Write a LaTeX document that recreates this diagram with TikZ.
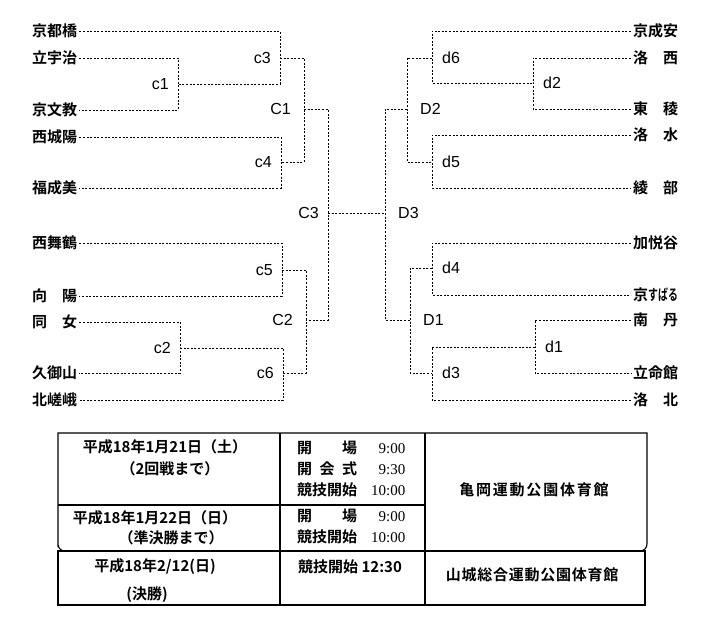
\documentclass[tikz,border=0pt]{standalone}
\usepackage{fontspec}
\setmainfont{Liberation Sans}
\newfontfamily\jp{Noto Sans CJK JP}[BoldFont=* Bold]
\newfontfamily\tm{Liberation Serif}
\begin{document}
\begin{tikzpicture}[x=1pt,y=-1pt]
    \tikzstyle{team} = [inner sep=2pt, font=\jp\bfseries\fontsize{15}{18}\selectfont]
    \tikzstyle{br} = [line width=0.8pt, dash pattern=on 2pt off 1.6pt]
    \tikzstyle{lab} = [inner sep=1pt, font=\fontsize{16}{19}\selectfont]
    \tikzstyle{cell} = [inner sep=0pt, font=\jp\bfseries\fontsize{15}{21}\selectfont]
    \tikzstyle{tab} = [line width=1.1pt]
    \useasboundingbox (0,0) rectangle (725,643);
    % left side
    \node[team, anchor=west] (l1) at (30,31) {京都橋};
    \node[team, anchor=west] (l2) at (30,58) {立宇治};
    \node[team, anchor=west] (l3) at (30,110) {京文教};
    \node[team, anchor=west] (l4) at (30,137) {西城陽};
    \node[team, anchor=west] (l5) at (30,188) {福成美};
    \node[team, anchor=west] (l6) at (30,243) {西舞鶴};
    \node[team, anchor=west] (l7) at (30,296) {向　陽};
    \node[team, anchor=west] (l8) at (30,322) {同　女};
    \node[team, anchor=west] (l9) at (30,373) {久御山};
    \node[team, anchor=west] (l10) at (30,400) {北嵯峨};
    \coordinate (c1) at (178,84);
    \coordinate (c2) at (180,348);
    \coordinate (c3) at (280,58);
    \coordinate (c4) at (281,162);
    \coordinate (c5) at (282,270);
    \coordinate (c6) at (283,373);
    \coordinate (C1) at (304,109);
    \coordinate (C2) at (306,320);
    \coordinate (C3) at (328,213);
    \draw[br] (l2.east) -| (c1) |- (l3.east);
    \draw[br] (l1.east) -| (c3) |- (c1);
    \draw[br] (l4.east) -| (c4) |- (l5.east);
    \draw[br] (c3) -| (C1) |- (c4);
    \draw[br] (l6.east) -| (c5) |- (l7.east);
    \draw[br] (l8.east) -| (c2) |- (l9.east);
    \draw[br] (c2) -| (c6) |- (l10.east);
    \draw[br] (c5) -| (C2) |- (c6);
    \draw[br] (C1) -| (C3) |- (C2);
    \node[lab, left=8pt] (tc1) at (c1) {c1};
    \node[lab, left=8pt] (tc2) at (c2) {c2};
    \node[lab, left=8pt] (tc3) at (c3) {c3};
    \node[lab, left=8pt] (tc4) at (c4) {c4};
    \node[lab, left=8pt] (tc5) at (c5) {c5};
    \node[lab, left=8pt] (tc6) at (c6) {c6};
    \node[lab, left=12pt] (tC1) at (C1) {C1};
    \node[lab, left=12pt] (tC2) at (C2) {C2};
    \node[lab, left=8pt] (tC3) at (C3) {C3};
    % right side
    \node[team, anchor=west] (r1) at (631,31) {京成安};
    \node[team, anchor=west] (r2) at (631,58) {洛　西};
    \node[team, anchor=west] (r3) at (631,109) {東　稜};
    \node[team, anchor=west] (r4) at (631,135) {洛　水};
    \node[team, anchor=west] (r5) at (631,188) {綾　部};
    \node[team, anchor=west] (r6) at (631,243) {加悦谷};
    \node[team, anchor=west] (r7) at (631,295) {京\scalebox{0.66}[1]{すばる}};
    \node[team, anchor=west] (r8) at (631,320) {南　丹};
    \node[team, anchor=west] (r9) at (631,373) {立命館};
    \node[team, anchor=west] (r10) at (631,400) {洛　北};
    \coordinate (d1) at (535,347);
    \coordinate (d2) at (533,83);
    \coordinate (d3) at (432,373);
    \coordinate (d4) at (432,268);
    \coordinate (d5) at (432,162);
    \coordinate (d6) at (432,58);
    \coordinate (D1) at (410,320);
    \coordinate (D2) at (407,109);
    \coordinate (D3) at (385,213);
    \draw[br] (r2.west) -| (d2) |- (r3.west);
    \draw[br] (r1.west) -| (d6) |- (d2);
    \draw[br] (r4.west) -| (d5) |- (r5.west);
    \draw[br] (d6) -| (D2) |- (d5);
    \draw[br] (r6.west) -| (d4) |- (r7.west);
    \draw[br] (r8.west) -| (d1) |- (r9.west);
    \draw[br] (d1) -| (d3) |- (r10.west);
    \draw[br] (d4) -| (D1) |- (d3);
    \draw[br] (D2) -| (D3) |- (D1);
    \draw[br] (C3) -- (D3);
    \node[lab, right=9pt] (td1) at (d1) {d1};
    \node[lab, right=9pt] (td2) at (d2) {d2};
    \node[lab, right=9pt] (td3) at (d3) {d3};
    \node[lab, right=9pt] (td4) at (d4) {d4};
    \node[lab, right=9pt] (td5) at (d5) {d5};
    \node[lab, right=9pt] (td6) at (d6) {d6};
    \node[lab, right=12pt] (tD1) at (D1) {D1};
    \node[lab, right=12pt] (tD2) at (D2) {D2};
    \node[lab, right=12pt] (tD3) at (D3) {D3};
    % schedule table
    \draw[tab] (58,433) -- (647,433) -- (647,540)
        {[rounded corners=7pt] -- (647,551) -- (58,551) -- (58,540)} -- cycle;
    \draw[tab] (58,551) rectangle (645,605);
    \draw[tab] (280,433) -- (280,605);
    \draw[tab] (425,433) -- (425,605);
    \draw[tab] (58,505) -- (425,505);
    \node[cell] (day1a) at (165,447) {平成18年1月21日（土）};
    \node[cell] (day1b) at (170,469) {（2回戦まで）};
    \node[cell] (day2a) at (155,518) {平成18年1月22日（日）};
    \node[cell] (day2b) at (171,538) {（準決勝まで）};
    \node[cell] (day3a) at (155,567) {平成18年2/12(日)};
    \node[cell] (day3b) at (147,595) {(決勝)};
    \node[cell, anchor=west] (time1) at (297,470) {\begin{tabular}{@{}l@{\hspace{14pt}}r@{}}
        \makebox[4em][l]{開\hfill 場} & {\tm\mdseries 9:00}\\
        \makebox[4em][l]{開\hfill 会\hfill 式} & {\tm\mdseries 9:30}\\
        競技開始 & {\tm\mdseries 10:00}
      \end{tabular}};
    \node[cell, anchor=west] (time2) at (297,528) {\begin{tabular}{@{}l@{\hspace{14pt}}r@{}}
        \makebox[4em][l]{開\hfill 場} & {\tm\mdseries 9:00}\\
        競技開始 & {\tm\mdseries 10:00}
      \end{tabular}};
    \node[cell, anchor=west] (time3) at (298,567) {競技開始 12:30};
    \node[cell] (hall1) at (534,490) {\addfontfeature{LetterSpace=12}亀岡運動公園体育館};
    \node[cell] (hall2) at (532,575) {\addfontfeature{LetterSpace=5}山城総合運動公園体育館};
\end{tikzpicture}
\end{document}
